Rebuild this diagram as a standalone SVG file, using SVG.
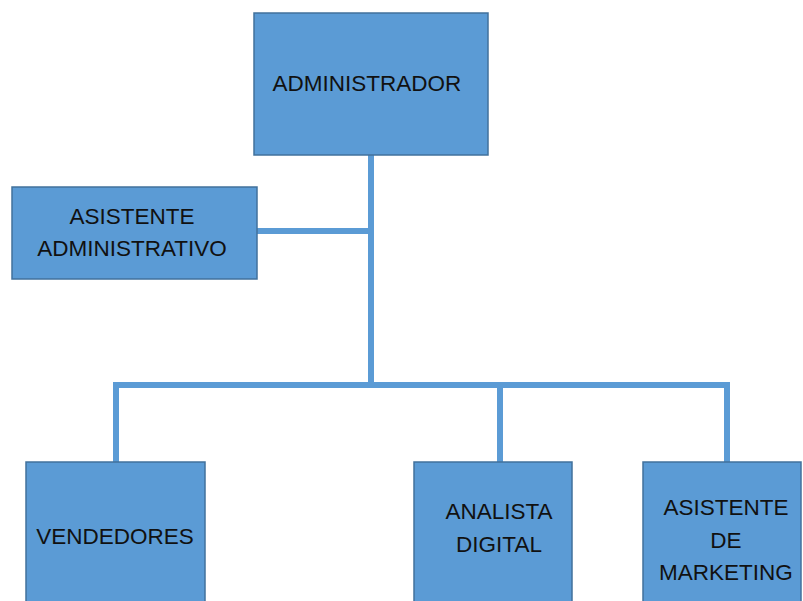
<svg xmlns="http://www.w3.org/2000/svg" width="803" height="601" viewBox="0 0 803 601">
<style>
.box{fill:#5B9BD5;stroke:#41719C;stroke-width:1.5}
.t{font-family:"Liberation Sans","Open Sans",sans-serif;font-size:22.5px;fill:#111;text-anchor:middle}
.c{stroke:#5B9BD5;stroke-width:6;fill:none;stroke-linecap:square}
</style>
<rect width="803" height="601" fill="#fff"/>
<g id="connectors">
<path class="c" d="M371 156V385"/>
<path class="c" d="M258 231H371"/>
<path class="c" d="M116 385H727"/>
<path class="c" d="M116 385V461"/>
<path class="c" d="M500 385V461"/>
<path class="c" d="M727 385V461"/>
</g>
<g id="administrador">
<rect class="box" x="254" y="13" width="234" height="142"/>
<text class="t" x="367" y="91">ADMINISTRADOR</text>
</g>
<g id="asistente-administrativo">
<rect class="box" x="12" y="187" width="245" height="92"/>
<text class="t" x="132" y="224">ASISTENTE</text>
<text class="t" x="132" y="256">ADMINISTRATIVO</text>
</g>
<g id="vendedores">
<rect class="box" x="26" y="462" width="179" height="145"/>
<text class="t" x="115" y="544">VENDEDORES</text>
</g>
<g id="analista-digital">
<rect class="box" x="414" y="462" width="158" height="145"/>
<text class="t" x="499" y="519">ANALISTA</text>
<text class="t" x="499" y="552">DIGITAL</text>
</g>
<g id="asistente-marketing">
<rect class="box" x="643" y="462" width="158" height="145"/>
<text class="t" x="726" y="515">ASISTENTE</text>
<text class="t" x="726" y="548">DE</text>
<text class="t" x="726" y="580">MARKETING</text>
</g>
</svg>
